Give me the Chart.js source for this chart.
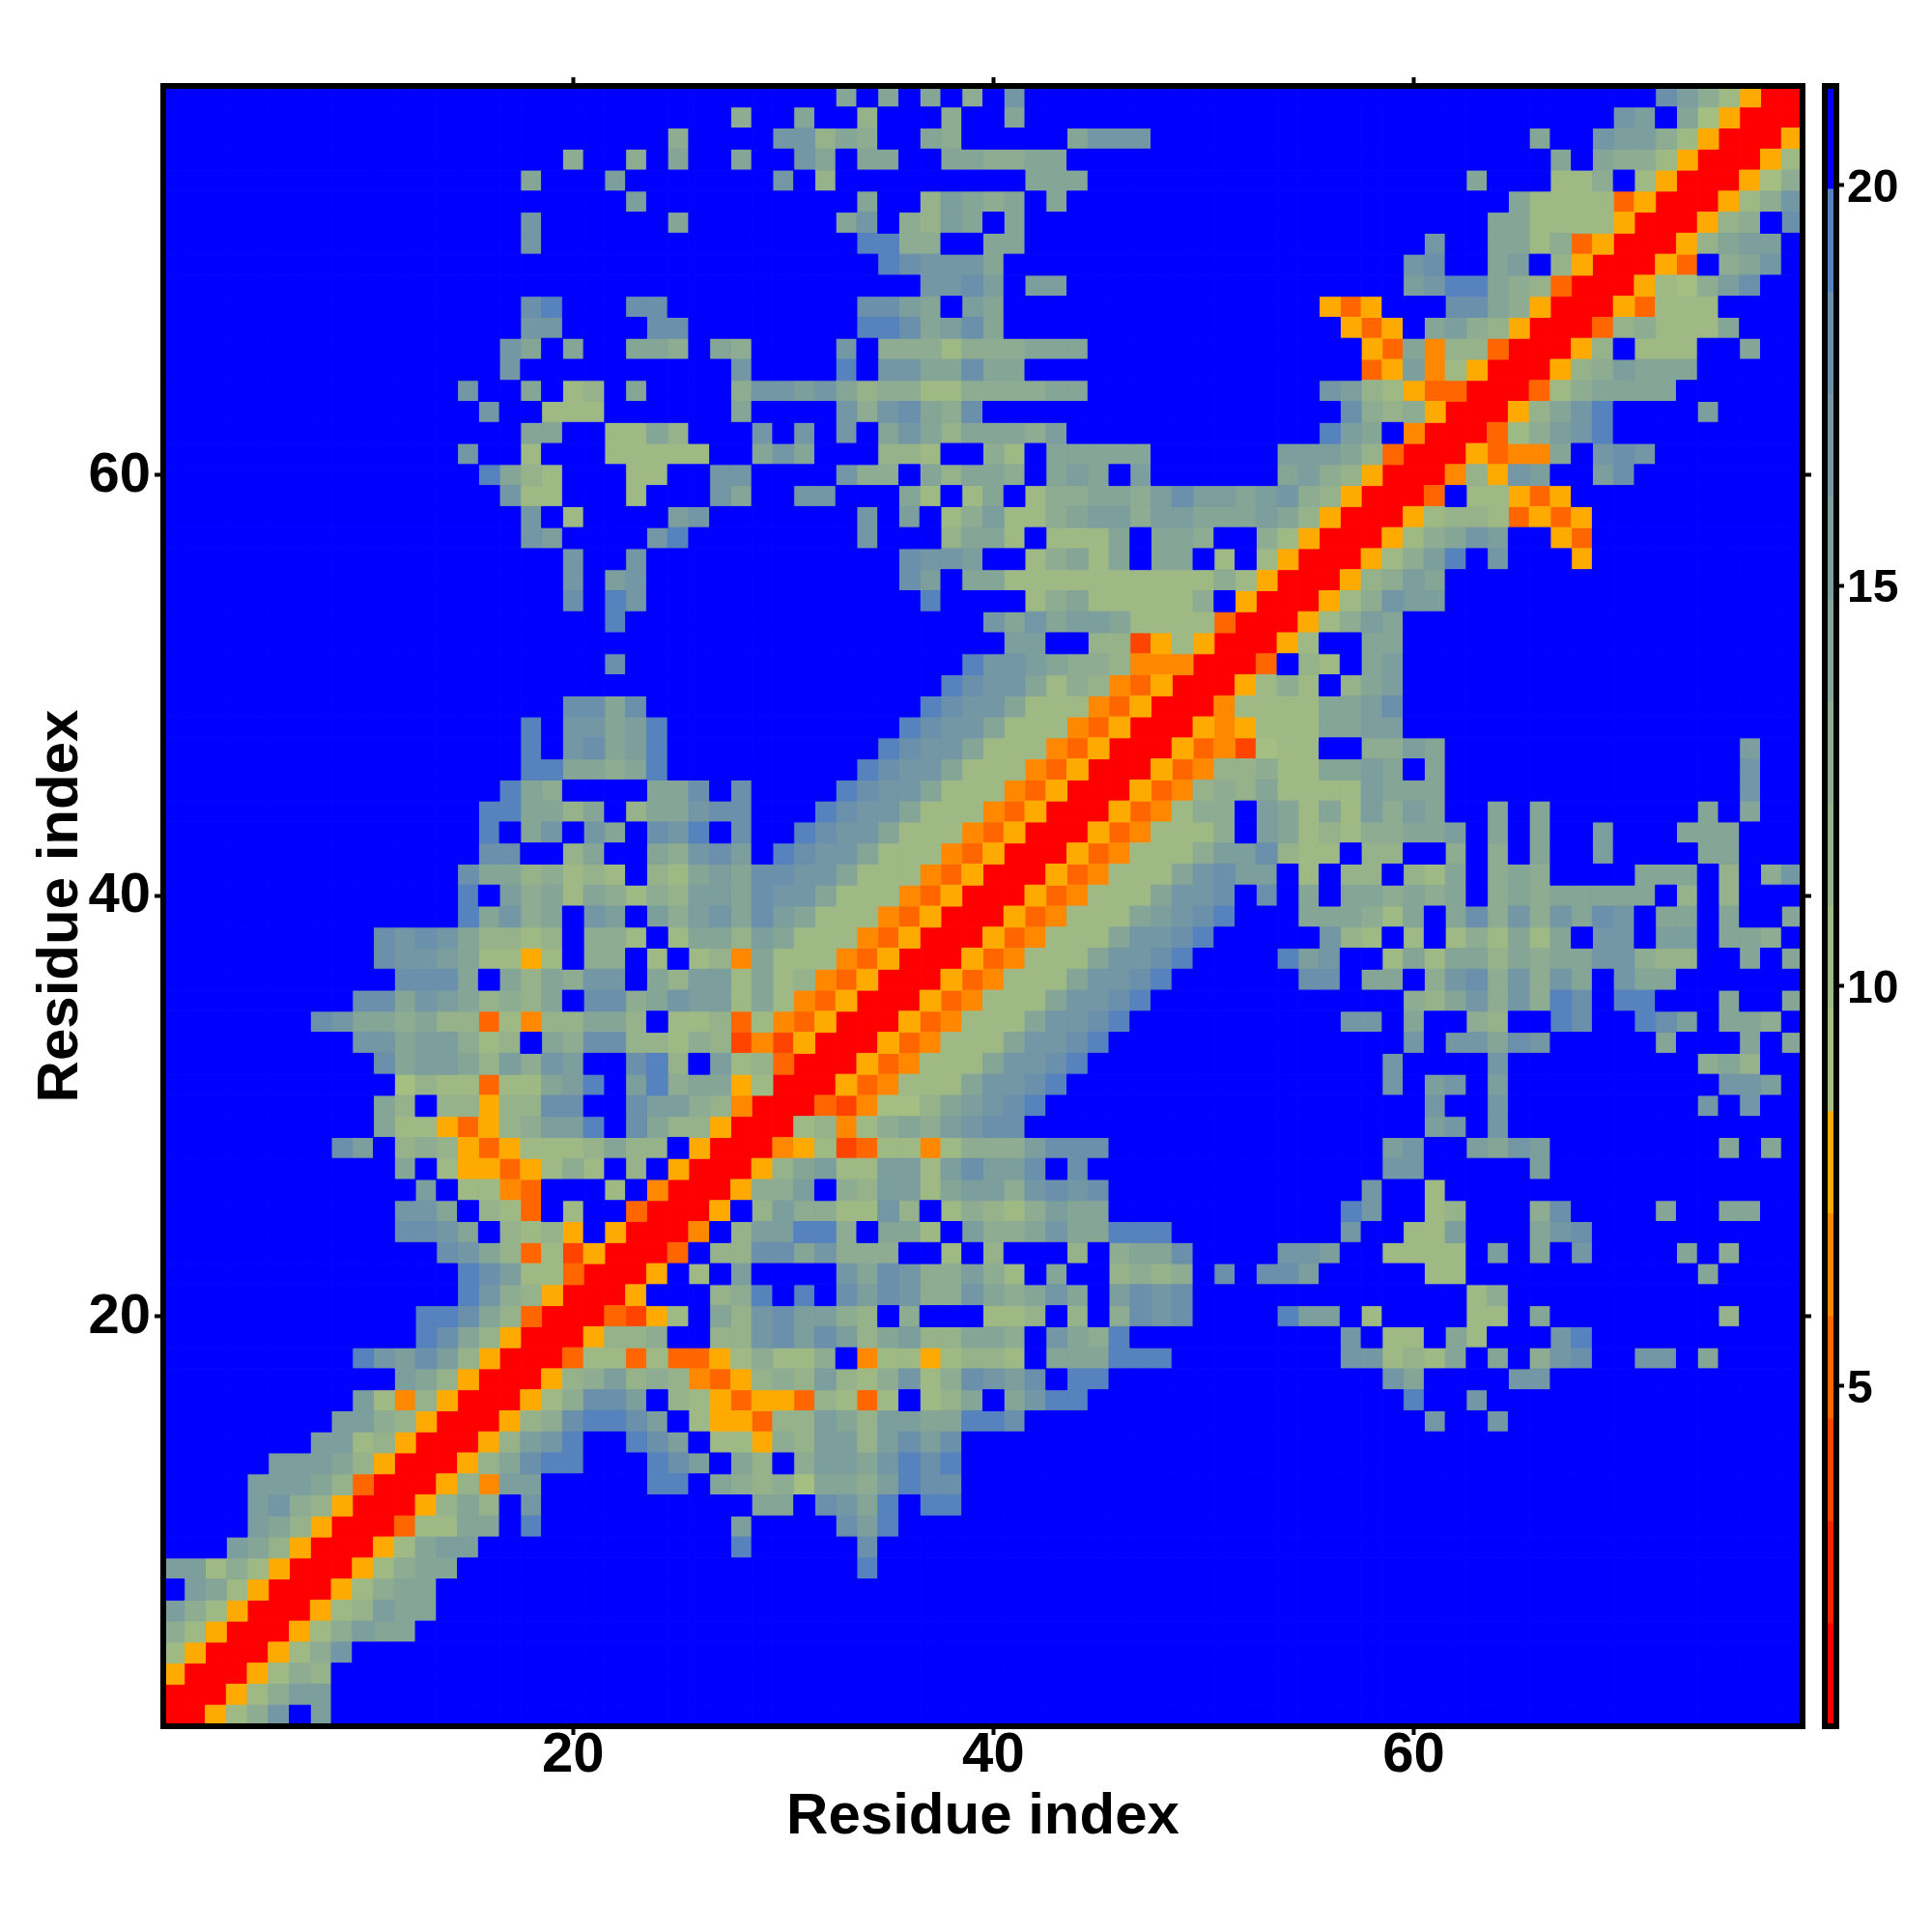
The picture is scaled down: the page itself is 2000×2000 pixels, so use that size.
<!DOCTYPE html>
<html>
<head>
<meta charset="utf-8">
<title>Residue map</title>
<script src="https://cdn.jsdelivr.net/npm/chart.js@4/dist/chart.umd.min.js"></script>
<style>
    html, body { margin: 0; background: #fff; }
    #wrap { position: relative; width: 2000px; height: 2000px; }
    canvas { position: absolute; top: 0; }
    #mapChart { left: 0; }
    #barChart { left: 1850px; }
</style>
</head>
<body>
<div id="wrap">
    <canvas id="mapChart" width="2000" height="2000"></canvas>
    <canvas id="barChart" width="150" height="2000"></canvas>
</div>
<script>
// Axis ticks
const axisTicks = [20, 40, 60];
const barTicks = [5, 10, 15, 20];
const residueCount = 78;

// Colour bins, lowest distance first
const binEdges = [0.75, 2.03, 3.31, 4.59, 5.87, 7.15, 8.43, 9.71, 10.99, 12.27, 13.55, 14.83, 16.11, 17.39, 18.67, 19.95, 21.24];
const binValues = [1.4, 2.7, 4.0, 5.2, 6.5, 7.8, 9.1, 10.4, 11.6, 12.9, 14.2, 15.5, 16.8, 18.0, 19.3, 20.6];
const binColors = ['#ff0000', '#ff2200', '#ff4400', '#ff6600', '#ff8800', '#ffaa00',
    '#a5be82', '#9fb985', '#96b28b', '#8eac91', '#85a597', '#7c9e9d', '#7397a4', '#6a90ab', '#5682bd', '#0000ff'];

// One string per row, top row is residue 78. Each char is a bin: 0-e in hex, '.' is the top bin
const cellRows = [
    "..... ..... ..... ..... ..... . ..... .a.a. a.9.c ..... ..... . ..... ..... ..... ....d b9750 0",
    "..... ..... ..... ..... ..... . .9..a ..8.. .9..a ..... ..... . ..... ..... ..... ..cb. a6500 0",
    "..... ..... ..... ..... ....9 . ...cc 8a9.. a9... ..acc c.... . ..... ..... ...a. .cbb9 75000 5",
    "..... ..... ..... ....9 ..9.a . .a..c a.aa. .aa99 aa... ..... . ..... ..... ....a .a997 50005 7",
    "..... ..... ..... ..a.. .b... . ...c. 8.... ..... aaa.. ..... . ..... ..... a...7 79.75 00056 9",
    "..... ..... ..... ..... ..b.. . ..... ..a.. 8ba9a .a... ..... . ..... ..... ..a77 77350 00579 c",
    "..... ..... ..... ..c.. ....a . ..... .ac.9 8ba.a ..... ..... . ..... ..... .aa77 77500 0589. d",
    "..... ..... ..... ..c.. ..... . ..... ..ee9 9..aa ..... ..... . ..... ...c. .aa79 35000 58abb .",
    "..... ..... ..... ..... ..... . ..... ...ed ccca. ..... ..... . ..... ..cd. .ab.8 50005 3.9ac .",
    "..... ..... ..... ..... ..... . ..... ..... ccdb. bb... ..... . ..... ..bce ea983 00057 69bd. .",
    "..... ..... ..... ..de. ..dd. . ..... ..ddb a.ba. ..... ..... . ...53 5...d da950 00537 77... .",
    "..... ..... ..... ..cc. ...dd . ..... ..eed abda. ..... ..... . ....5 35.ab 98500 03897 77a.. .",
    "..... ..... ..... .ca.a ..aa9 . a9... .c.99 97999 aaa.. ..... . ..... 53a48 83000 58.77 7..a. .",
    "..... ..... ..... .c... ..... . .c... .e.cc aadaa ..... ..... . ..... 35b47 50005 89baa a.... .",
    "..... ..... ....c ..a.7 8.a.. . .9ccb ca899 77999 9aa.. ..... . ...cb 87533 00037 9aaaa ..... .",
    "..... ..... ..... c..77 7.... . .a... .c9cd a9d.. ..... ..... . ....d 98950 0058a ce... .b... .",
    "..... ..... ..... ..aa. .77a8 . ..c.c .c.ac a8aaa 9b... ..... . ...eb a.400 0379b ce... ..... .",
    "..... ..... ....c ..7.. .7777 7 ..aca ...88 7..97 .aaaa a.... . .bbba 83000 5344a .cdc. ..... .",
    "..... ..... ..... ea87. ..77. . cc... .c99. a8aa9 .aba. b.... . .ab98 50004 85cb. .bd.. ..... .",
    "..... ..... ..... .c77. ..7.. . ca..c c...a 7.7a. 799aa 9bdbb a bc985 0003. 77535 ..... ..... .",
    "..... ..... ..... ..c.7 ....b c ..... ..c.b .79b7 79abb 9bbaa a ba850 00578 87353 5.... ..... .",
    "..... ..... ..... ..cb. ...ce . ..... ..c.. .8aa7 .777a .aa9. . 97500 0579a cb..5 3.... ..... .",
    "..... ..... ..... ....c ..c.. . ..... ....d ccb.. 79a7a .aa.7 . 75000 579be .c... 5.... ..... .",
    "..... ..... ..... ....c .bc.. . ..... ....d b.aa7 77777 77779 7 50005 89ba. ..... ..... ..... .",
    "..... ..... ..... ....d .ec.. . ..... ..... e.... 79a77 7779. 5 00057 9cbb. ..... ..... ..... .",
    "..... ..... ..... ..... .e... . ..... ..... ...ca cabba 77773 0 00579 ba... ..... ..... ..... .",
    "..... ..... ..... ..... ..... . ..... ..... ....b b..88 25750 0 057.. aa... ..... ..... ..... .",
    "..... ..... ..... ..... .d... . ..... ..... ..ecc ba998 44400 0 3.87. ab... ..... ..... ..... .",
    "..... ..... ..... ..... ..... . ..... ..... .edcc a7984 35000 5 797.8 ab... ..... ..... ..... .",
    "..... ..... ..... ....d dad.. . ..... ..... edcca 77743 50004 7 777aa bd... ..... ..... ..... .",
    "..... ..... ..... ..e.c cabe. . ..... ....e dcca7 77435 00054 5 777aa bb... ..... ..... ..... .",
    "..... ..... ..... ..e.c dabe. . ..... ...ed cca77 74350 00534 2 677.. 99ba. ..... ..... ...b. .",
    "..... ..... ..... ..eea a9ae. . ..... ..edc ca777 43500 05348 8 977aa ba.a. ..... ..... ...c. .",
    "..... ..... ..... .ea9. ...aa d .d... .edcc a7774 35000 53489 8 a7777 baaa. ..... ..... ...c. .",
    "..... ..... ..... eeaa8 a.8aa c dd... edcca 77743 50005 34799 . ba7a7 b9ba. .a.a. ..... .a.a. .",
    "..... ..... ..... e.ac. ca.dc e .d..e dcca7 77435 00053 47779 . ba787 99aab .a.a. .b... aaa.. .",
    "..... ..... ..... dd..8 a..a9 c db.ed cca77 74350 00534 7779b b d877. 88..9 .9.a. .b... .aa.. .",
    "..... ..... ....d aa897 87.87 a baddc ca777 43500 05347 77acd b b.7.8 8.87a .9a9. ...aa a.8.9 c",
    "..... ..... ....e .b9a7 a9798 b badcc a7774 35000 53477 7accd . d.a.a a9a9a .9a9a aaaa. 8.8.. .",
    "..... ..... ....e ac9a. cb.b9 b cadba 77743 50005 34777 abcde . ..aaa 97a.a d9c9c adc.a a.a.. a",
    "..... ..... dcdca 8878. 997.7 a a8ba7 77435 00053 4777a ccde. . ...c8 7.7.7 97a7a .cc.b b.aa9 .",
    "..... ..... dccba 7757. 99.7. 7 84a77 74350 00534 777ac cde.. . .ebc. .7a7a a8a9a acc98 8..a. a",
    "..... ..... .ddda .a8a9 cc.a8 b b7a78 43500 05347 77acc de... . ..dd. aa.9c d9c9c a.caa ..... .",
    "..... ....d dacba 898a. dd9ac b b7a74 35000 53477 7accd e.... . ..... ..98a c9c9e d.ee. ..a.. a",
    "..... ..dca a9a88 37488 aa8.7 7 83743 50005 34777 accde ..... . ....c c.a.. 98..e d..ed b.aa9 .",
    "..... ....c cabb9 78.a9 dd887 9 82425 00053 4777a ccde. ..... . ..... ..c.c cadc. ....a ...a. a",
    "..... ..... dabba 8b9cb ..de8 . b7830 00534 777ac cde.. ..... . ..... .c... .c... ..... .9a8. .",
    "..... ..... .6877 377ab e.be9 a a5700 05347 77acc de... ..... . ..... .c.bc .b... ..... ..ccb .",
    "..... ..... a8.88 588dd ..dbb 9 84000 32466 8abcd e.... ..... . ..... ...c. .c... ..... .c.c. .",
    "..... ..... a7753 589bb e.da8 8 50007 8479a 9bcdd ..... ..... . ..... ...bc .c... ..... ..... .",
    "..... ...db .8985 35777 8a88. 5 00045 72377 47999 bddd. ..... . ..... .bc.. bacb. ..... ..a.a .",
    "..... ..... .a.75 53579 7.8.5 0 0058a b77bb 7bdbb d.d.. ..... . ..... .cc.. ...b. ..... ..... .",
    "..... ..... ..b.7 743.. .7.40 0 0599b .98bb 7abb9 cdcd. ..... . ..... c..7. ..... ..... ..... .",
    "..... ..... .cca. 873.7 ..300 0 5.8b9 977c8 .7987 9baa. ..... . ....e c..78 ...9d ....a ..aa. .",
    "..... ..... .ddca .8785 .5000 4 .8bbe e9.aa 7.b99 acaae ee... . ....c ..77b ...ac d.... ..... .",
    "..... ..... ...dc a8372 50003 . 88dda c999. .7.8. ..8.9 aad.. . .ccb. .7777 .b.a. c.... a.9.. .",
    "..... ..... ....e db773 0005. 7 .b... .cadc 99b97 .a..8 989.d . ddb.. ...77 ..... ..... .a... .",
    "..... ..... ....e c9850 005.. . 89e.e .dbdc 99ca9 aca.b dcd.. . ..... ..... 79... ..... ..... .",
    "..... ..... ..eed a8300 03257 . a8cdb b98.9 ...77 8.8.9 dcd.. . .ebb. 7.... 77.a. ..... ..8.. .",
    "..... ..... ..eda 85000 5889. . 88cdb db8ab 88aa9 .ca9e ..... . ....c .77.a 7...c e.... ..... .",
    "..... ....e cbdb8 50003 77373 3 57977 9.477 57887 .aaae ee... . ....c c787a .a.9c d..cc .a... .",
    "..... ..... .ba85 00058 9b898 4 35898 b879c 79dcb d.ee. ..... . ..... .ca.. ..cc. ..... ..... .",
    "..... ....b 74850 00579 ddb.8 7 53553 8737. 78a.a cee.. ..... . ..... ..e.. c.... ..... ..... .",
    "..... ...bb 98500 0589d eedb. 7 55388 ba8bb aaeed ..... ..... . ..... ...c. .c... ..... ..... .",
    "..... ..bb7 85000 58bce ..edb . 77598 bb8bd bd... ..... ..... . ..... ..... ..... ..... ..... .",
    "..... bbba8 50005 8adee ...ed b .a8.9 bbace de... ..... ..... . ..... ..... ..... ..... ..... .",
    "....b bba83 00058 4bb.. ...ee . a9896 aa9be dd... ..... ..... . ..... ..... ..... ..... ..... .",
    "....b c9850 0058a 8.c.. ..... . ..aa. dcae. ee... ..... ..... . ..... ..... ..... ..... ..... .",
    "....b a8500 0377a a.e.. ..... . .b... .dbe. ..... ..... ..... . ..... ..... ..... ..... ..... .",
    "...ba 85000 57abb ..... ..... . .e... ..d.. ..... ..... ..... . ..... ..... ..... ..... ..... .",
    "bb797 50005 79aa. ..... ..... . ..... ..e.. ..... ..... ..... . ..... ..... ..... ..... ..... .",
    ".ba75 00057 9aa.. ..... ..... . ..... ..... ..... ..... ..... . ..... ..... ..... ..... ..... .",
    "b9750 00578 baa.. ..... ..... . ..... ..... ..... ..... ..... . ..... ..... ..... ..... ..... .",
    "97500 0579b aa... ..... ..... . ..... ..... ..... ..... ..... . ..... ..... ..... ..... ..... .",
    "75000 579c. ..... ..... ..... . ..... ..... ..... ..... ..... . ..... ..... ..... ..... ..... .",
    "50005 798.. ..... ..... ..... . ..... ..... ..... ..... ..... . ..... ..... ..... ..... ..... .",
    "00057 9bb.. ..... ..... ..... . ..... ..... ..... ..... ..... . ..... ..... ..... ..... ..... .",
    "00579 c.b.. ..... ..... ..... . ..... ..... ..... ..... ..... . ..... ..... ..... ..... ..... ."
];

// Canvas box of the map and its frame
const plotLeft = 169, plotRight = 1866, plotTop = 89, plotBottom = 1787;
const cellRadius = (plotRight - plotLeft) / residueCount * Math.SQRT1_2;
const fontName = '"Liberation Sans", Arial, sans-serif';

// Turns the rows into one point list per colour bin
function buildBinPoints() {
    const lists = binValues.map(() => []);
    cellRows.forEach((row, r) => {
        const chars = row.replace(/\s/g, '');
        if (chars.length !== residueCount) console.error('row ' + r + ' has ' + chars.length + ' cells');
        for (let c = 0; c < chars.length; c++) {
            const bin = chars[c] === '.' ? binValues.length - 1 : parseInt(chars[c], 16);
            lists[bin].push({ x: c + 1, y: residueCount - r, v: binValues[bin] });
        }
    });
    return lists;
}

function setTicks(values) {
    return scale => { scale.ticks = values.map(v => ({ value: v })); };
}

function fixSize(prop, size) {
    return scale => { scale[prop] = size; };
}

const frameBorder = { display: false };
const tickGrid = { drawOnChartArea: false, drawTicks: true, tickLength: 9, tickWidth: 4, color: '#000' };

// Thick frame over the cell edges
const framePlugin = {
    id: 'frame',
    afterDraw(chart) {
        const a = chart.chartArea, ctx = chart.ctx;
        ctx.save();
        ctx.strokeStyle = '#000';
        ctx.lineWidth = 6;
        ctx.strokeRect(a.left, a.top, a.right - a.left, a.bottom - a.top);
        ctx.restore();
    }
};

document.addEventListener('DOMContentLoaded', function() {
    // Residue map
    new Chart(document.getElementById('mapChart'), {
        type: 'scatter',
        data: {
            datasets: buildBinPoints().map((points, i) => ({
                data: points,
                pointStyle: 'rect',
                pointRadius: cellRadius,
                pointHoverRadius: cellRadius,
                pointBackgroundColor: binColors[i],
                pointBorderColor: binColors[i],
                pointBorderWidth: 1,
                order: binColors.length - i
            }))
        },
        options: {
            responsive: false,
            animation: false,
            events: [],
            plugins: { legend: { display: false }, tooltip: { enabled: false } },
            layout: { padding: 0 },
            scales: {
                x: {
                    type: 'linear', position: 'bottom', min: 0.5, max: residueCount + 0.5,
                    afterBuildTicks: setTicks(axisTicks), afterFit: fixSize('height', 2000 - plotBottom),
                    border: frameBorder, grid: tickGrid,
                    ticks: { color: '#000', padding: -13, maxRotation: 0, font: { family: fontName, weight: 'bold', size: 58 } },
                    title: { display: true, text: 'Residue index', color: '#000', padding: { top: 0, bottom: 83 },
                        font: { family: fontName, weight: 'bold', size: 60 } }
                },
                y: {
                    type: 'linear', position: 'left', min: 0.5, max: residueCount + 0.5,
                    afterBuildTicks: setTicks(axisTicks), afterFit: fixSize('width', plotLeft),
                    border: frameBorder, grid: tickGrid,
                    ticks: { color: '#000', padding: 4, labelOffset: 1, font: { family: fontName, weight: 'bold', size: 58 } },
                    title: { display: true, text: 'Residue index', color: '#000', padding: { top: 27, bottom: 0 },
                        font: { family: fontName, weight: 'bold', size: 60 } }
                },
                xTop: {
                    type: 'linear', position: 'top', min: 0.5, max: residueCount + 0.5,
                    afterBuildTicks: setTicks(axisTicks), afterFit: fixSize('height', plotTop),
                    border: frameBorder, grid: tickGrid, ticks: { display: false }
                },
                yRight: {
                    type: 'linear', position: 'right', min: 0.5, max: residueCount + 0.5,
                    afterBuildTicks: setTicks(axisTicks), afterFit: fixSize('width', 2000 - plotRight),
                    border: frameBorder, grid: tickGrid, ticks: { display: false }
                }
            }
        },
        plugins: [framePlugin]
    });

    // Colour bar
    new Chart(document.getElementById('barChart'), {
        type: 'bar',
        data: {
            labels: ['bar'],
            datasets: binColors.map((color, i) => ({
                data: [[binEdges[i], binEdges[i + 1]]],
                backgroundColor: color,
                borderWidth: 0,
                barPercentage: 1,
                categoryPercentage: 1
            }))
        },
        options: {
            responsive: false,
            animation: false,
            events: [],
            plugins: { legend: { display: false }, tooltip: { enabled: false } },
            layout: { padding: { left: 39, top: plotTop, bottom: 2000 - plotBottom } },
            scales: {
                x: { display: false, stacked: true },
                y: {
                    type: 'linear', position: 'right', min: binEdges[0], max: binEdges[binEdges.length - 1],
                    afterBuildTicks: setTicks(barTicks), afterFit: fixSize('width', 99),
                    border: frameBorder, grid: { drawOnChartArea: false, drawTicks: true, tickLength: 8, tickWidth: 4, color: '#000' },
                    ticks: { color: '#000', padding: 3, labelOffset: 4, font: { family: fontName, weight: 'bold', size: 48 } }
                }
            }
        },
        plugins: [framePlugin]
    });
});
</script>
</body>
</html>
